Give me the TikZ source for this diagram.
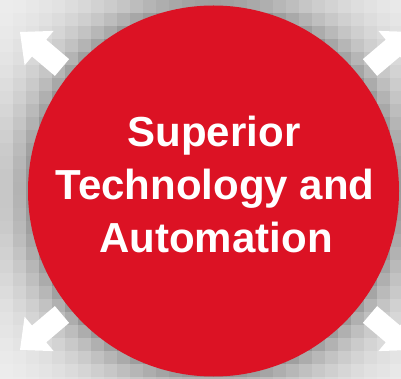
\documentclass[tikz,border=0pt]{standalone}
\usepackage{fontspec}
\setmainfont{Liberation Sans}
\definecolor{discred}{HTML}{DC1224}
\begin{document}
\begin{tikzpicture}[x=1pt,y=-1pt,
  bigtext/.style={text=white,font=\fontsize{42}{50}\selectfont\bfseries,inner sep=0pt,anchor=base},
  outarrow/.style={fill=white,draw=none}]
\useasboundingbox (0,0) rectangle (401,379);
\clip (0,0) rectangle (401,379);
% pixelated gray background
\foreach \i in {0,...,30}{
  \foreach \j in {0,...,29}{
    \pgfmathsetmacro{\cx}{\i*13+6.5}
    \pgfmathsetmacro{\cy}{\j*13+6.5}
    \pgfmathsetmacro{\dd}{veclen(\cx-213.5,\cy-191)}
    \pgfmathsetmacro{\vv}{max(0,min(100,95-32*exp(-(\dd-185)/35)))}
    \fill[white!\vv!black] (\i*13,\j*13) rectangle ++(13.4,13.4);
  }
}
% arrows
\begin{scope}[shift={(213.5,191)}]
  \fill[outarrow] (-144.4,-131.9) -- (-167.3,-151.3) -- (-159.9,-160.1) -- (-193.5,-159) -- (-188.9,-125.7) -- (-181.5,-134.5) -- (-158.6,-115.1) -- cycle;
  \fill[outarrow] (-144.4,131.9) -- (-167.3,151.3) -- (-159.9,160.1) -- (-193.5,159) -- (-188.9,125.7) -- (-181.5,134.5) -- (-158.6,115.1) -- cycle;
\end{scope}
\begin{scope}[shift={(218.5,191)}]
  \fill[outarrow] (144.4,-131.9) -- (167.3,-151.3) -- (159.9,-160.1) -- (193.5,-159) -- (188.9,-125.7) -- (181.5,-134.5) -- (158.6,-115.1) -- cycle;
  \fill[outarrow] (144.4,131.9) -- (167.3,151.3) -- (159.9,160.1) -- (193.5,159) -- (188.9,125.7) -- (181.5,134.5) -- (158.6,115.1) -- cycle;
\end{scope}
% circle
\node[circle,fill=discred,minimum size=371pt,inner sep=0pt] (disc) at (213.5,191) {};
\node[bigtext] (l1) at (214,147) {Superior};
\node[bigtext] (l2) at (215,200) {Technology and};
\node[bigtext] (l3) at (216,252) {Automation};
\end{tikzpicture}
\end{document}
